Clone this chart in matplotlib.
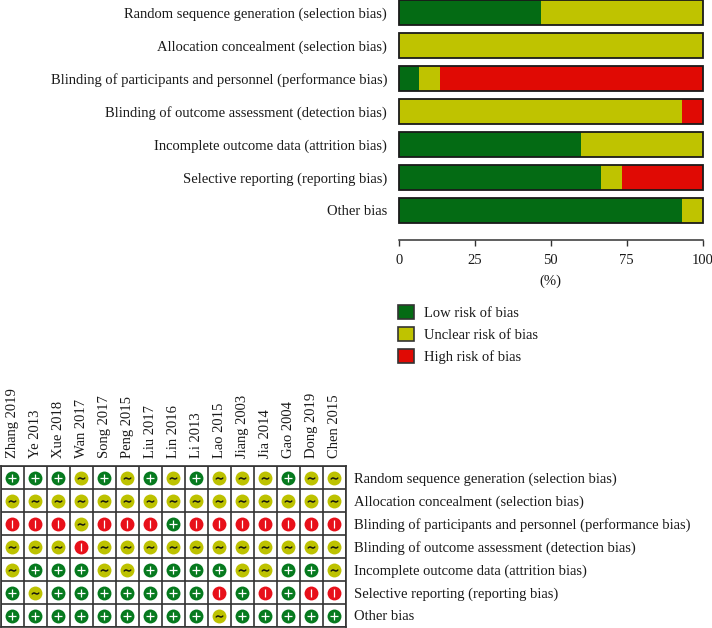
import numpy as np
import matplotlib
matplotlib.use("Agg")
import matplotlib.pyplot as plt
from matplotlib.patches import Patch

plt.rcParams['font.family'] = ['Liberation Serif', 'DejaVu Serif']

domains = ["Random sequence generation (selection bias)",
           "Allocation concealment (selection bias)",
           "Blinding of participants and personnel (performance bias)",
           "Blinding of outcome assessment (detection bias)",
           "Incomplete outcome data (attrition bias)",
           "Selective reporting (reporting bias)",
           "Other bias"]
low = [46.7, 0, 6.7, 0, 60, 66.7, 93.3]
unclear = [53.3, 100, 6.7, 93.3, 40, 6.7, 6.7]
high = [0, 0, 86.6, 6.7, 0, 26.6, 0]
xticks = [0, 25, 50, 75, 100]
legend_labels = ["Low risk of bias", "Unclear risk of bias", "High risk of bias"]
studies = ["Zhang 2019", "Ye 2013", "Xue 2018", "Wan 2017", "Song 2017", "Peng 2015",
           "Liu 2017", "Lin 2016", "Li 2013", "Lao 2015", "Jiang 2003", "Jia 2014",
           "Gao 2004", "Dong 2019", "Chen 2015"]
ratings = ["+++~+~+~+~~~+~~",
           "~~~~~~~~~~~~~~~",
           "---~---+-------",
           "~~~-~~~~~~~~~~~",
           "~+++~~++++~~++~",
           "+~+++++++-+-+--",
           "+++++++++~+++++"]

W, H = 712, 628
GREEN, YELLOW, RED = "#046B14", "#BFC300", "#E00A04"
CGREEN, CYELLOW, CRED = "#067A1E", "#BDC200", "#E8101A"
FS = 10.5
TXT = "#1a1a1a"
def box(l, t, r, b):
    return [l / W, 1 - b / H, (r - l) / W, (b - t) / H]

fig = plt.figure(figsize=(W / 100, H / 100), dpi=100)

# summary bars
ax = fig.add_axes(box(399, 0, 702.5, 240))
y = np.arange(len(domains))
low_a, unc_a, high_a = map(np.array, (low, unclear, high))
ax.barh(y, low_a, height=0.75, color=GREEN, lw=0)
ax.barh(y, unc_a, left=low_a, height=0.75, color=YELLOW, lw=0)
ax.barh(y, high_a, left=low_a + unc_a, height=0.75, color=RED, lw=0)
ax.barh(y, low_a + unc_a + high_a, height=0.75, fill=False, edgecolor="#1a1a1a", lw=1.3, clip_on=False)
ax.set_xlim(0, 100)
ax.set_ylim(6.894, -0.379)
for s in ("top", "left", "right"):
    ax.spines[s].set_visible(False)
ax.spines["bottom"].set_linewidth(1.1)
ax.spines["bottom"].set_color("#333333")
ax.set_xticks(xticks)
ax.tick_params(axis="x", length=4.5, width=1, color="#333333", labelsize=FS, pad=5.5, labelcolor=TXT)
ax.set_yticks(y, domains, fontsize=FS, color=TXT)
ax.tick_params(axis="y", length=0, pad=8.5)
ax.set_xlabel("(%)", fontsize=FS, labelpad=5.5, color=TXT)

handles = [Patch(facecolor=c, edgecolor="#333333", lw=1.2) for c in (GREEN, YELLOW, RED)]
fig.legend(handles, legend_labels, loc="upper left", bbox_to_anchor=(385 / W, 1 - 292 / H),
           frameon=False, fontsize=FS, handlelength=1.1, handleheight=1.1,
           handletextpad=0.7, labelspacing=0.47, labelcolor=TXT)

# traffic-light grid
g = fig.add_axes(box(0.5, 466, 346, 627))
g.set_xlim(0, 15)
g.set_ylim(7, 0)
g.set_xticks(np.arange(16), minor=True)
g.set_yticks(np.arange(8), minor=True)
g.grid(which="minor", color="#333333", lw=1.2)
g.tick_params(which="both", length=0)
g.set_axisbelow(True)
for s in g.spines.values():
    s.set_color("#333333")
    s.set_linewidth(1.2)
g.set_xticks(np.arange(15) + 0.5, studies, rotation=90, fontsize=FS, color=TXT)
g.xaxis.tick_top()
g.tick_params(axis="x", which="major", pad=6)
g.yaxis.tick_right()
g.set_yticks(np.arange(7) + 0.5, domains, fontsize=FS, color=TXT)
g.tick_params(axis="y", which="major", pad=6)

style = {"+": (CGREEN, "+", "white"), "~": (CYELLOW, r"$\sim$", "#111111"), "-": (CRED, "|", "white")}
for key, (col, mark, mc) in style.items():
    rr, cc = zip(*[(r, c) for r, row in enumerate(ratings) for c, v in enumerate(row) if v == key])
    xs, ys = np.array(cc) + 0.5, np.array(rr) + 0.5
    g.scatter(xs, ys, s=100, color=col, lw=0, zorder=3)
    g.scatter(xs, ys, s=36 if key != "~" else 26, marker=mark, color=mc, lw=0.9 if key != "~" else 0.4, zorder=4)

fig.savefig("out.png", dpi=100)
